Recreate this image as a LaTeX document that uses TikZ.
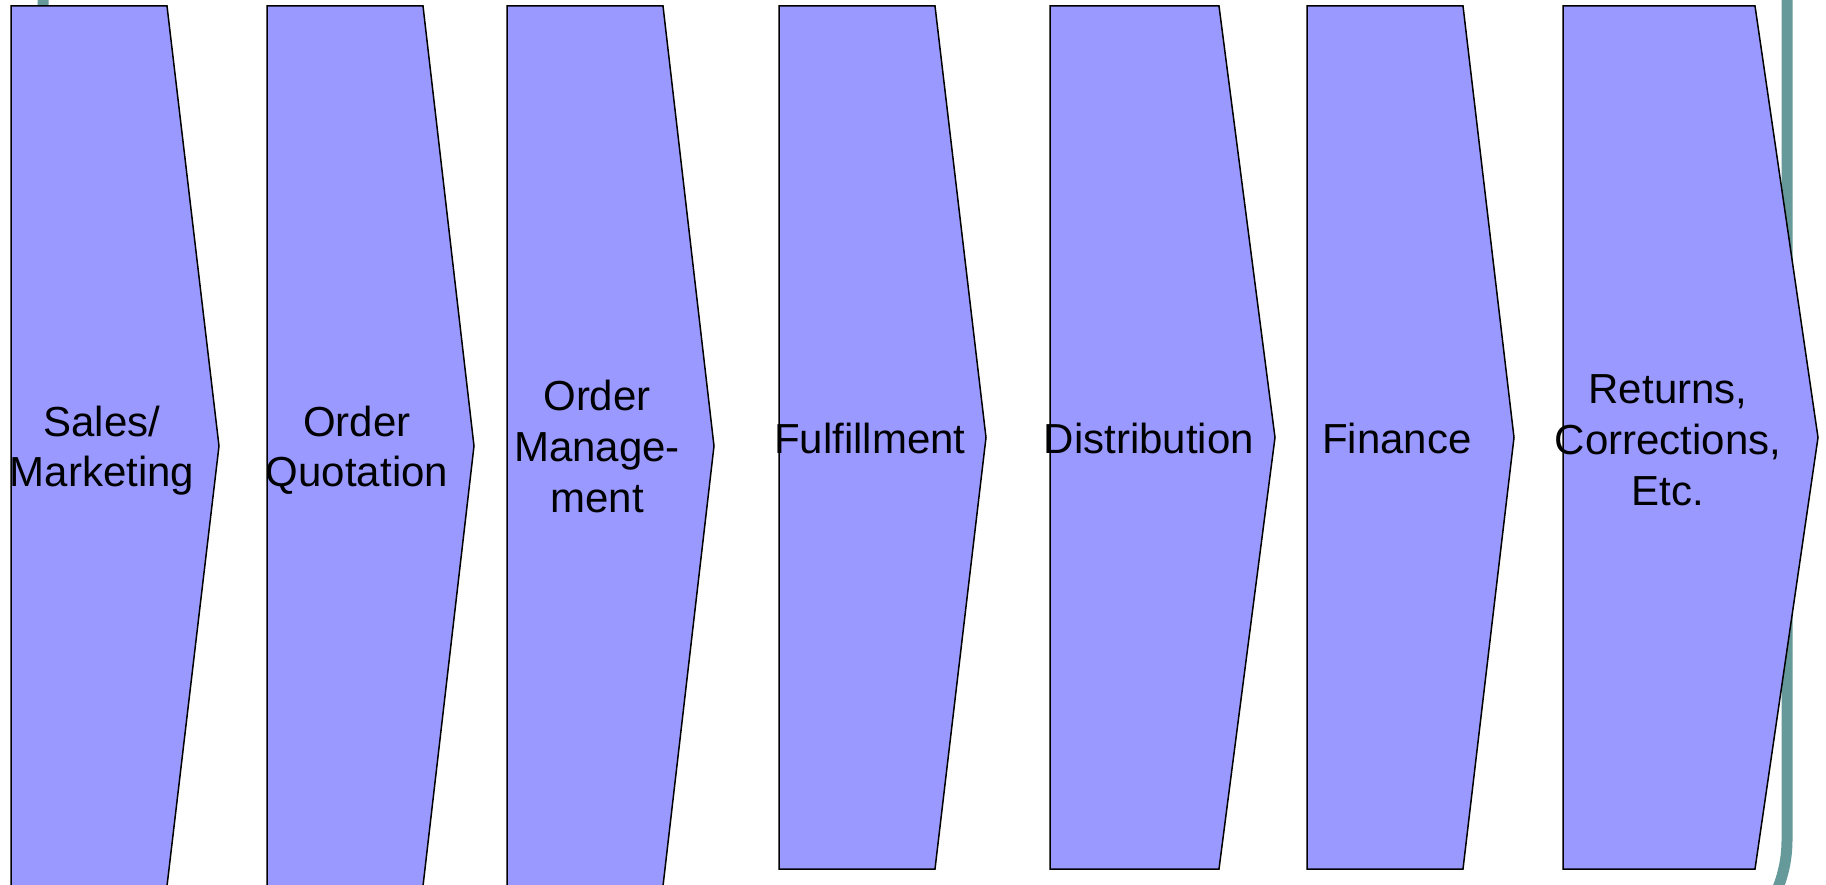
\documentclass[tikz,border=0pt]{standalone}
\usepackage{fontspec}
\setmainfont{Liberation Sans}
\definecolor{chev}{RGB}{153,153,255}
\definecolor{frameteal}{RGB}{102,153,153}
\begin{document}
\begin{tikzpicture}[x=1pt,y=-1pt,
  chevron/.style={fill=chev,draw=black,line width=1.5pt,line join=miter},
  lbl/.style={anchor=base,inner sep=0pt,font=\fontsize{42}{50}\selectfont},
  lblw/.style={anchor=base,inner sep=0pt,font=\fontsize{42}{51}\selectfont},
  frameline/.style={draw=frameteal,line width=11pt}]
\useasboundingbox (0,0) rectangle (1826,885);
\clip (0,0) rectangle (1826,885);
\fill[white] (0,0) rectangle (1826,885);
% background frame
\coordinate (fa) at (43,-300);
\coordinate (fb) at (1787,970);
\draw[frameline,rounded corners=130pt] (fa) rectangle (fb);
% chevrons: left, top-right x, tip x, top y, bottom y
\foreach \n/\l/\r/\t/\ty/\by in {c1/11/167/219/6/886, c2/267/423/474/6/886, c3/507/663/714/6/886,
  c4/779/935/986/6/869, c5/1050/1219/1275/6/869, c6/1307/1463/1514/6/869, c7/1563/1755/1818/6/869}{
  \pgfmathsetmacro{\my}{(\ty+\by)/2}
  \coordinate (\n-tl) at (\l,\ty);
  \coordinate (\n-tr) at (\r,\ty);
  \coordinate (\n-tip) at (\t,\my);
  \coordinate (\n-br) at (\r,\by);
  \coordinate (\n-bl) at (\l,\by);
  \draw[chevron] (\n-tl) -- (\n-tr) -- (\n-tip) -- (\n-br) -- (\n-bl) -- cycle;
}
\node[lbl] (t1) at (102,436) {\begin{tabular}[t]{@{}c@{}}Sales/\\Marketing\end{tabular}};
\node[lbl] (t2) at (357,436) {\begin{tabular}[t]{@{}c@{}}Order\\Quotation\end{tabular}};
\node[lblw] (t3) at (597,410) {\begin{tabular}[t]{@{}c@{}}Order\\Manage-\\ment\end{tabular}};
\node[lbl] (t4) at (870,453) {Fulfillment};
\node[lbl] (t5) at (1149,453) {Distribution};
\node[lbl] (t6) at (1397,453) {Finance};
\node[lblw] (t7) at (1668,403) {\begin{tabular}[t]{@{}c@{}}Returns,\\Corrections,\\Etc.\end{tabular}};
\end{tikzpicture}
\end{document}
